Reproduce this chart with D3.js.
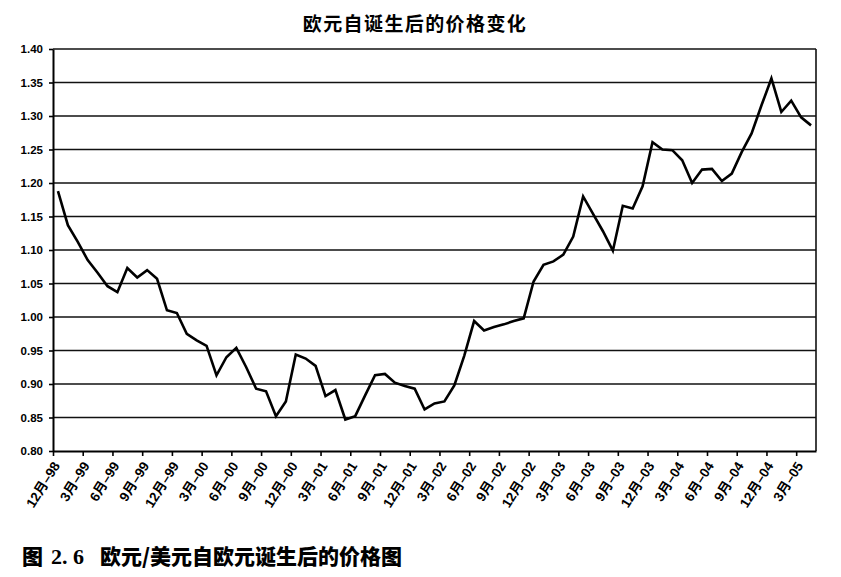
<!DOCTYPE html>
<html>
<head>
<meta charset="utf-8">
<script src="https://cdn.jsdelivr.net/npm/d3@7/dist/d3.min.js"></script>
<style>
  html, body { margin: 0; padding: 0; background: #fff; }
  svg { display: block; }
</style>
</head>
<body>
<svg id="chart" width="841" height="577"></svg>
<script>
// chart text
const TITLE = "欧元自诞生后的价格变化"
const CAPTION_FIG = "图"
const CAPTION_NO = "2. 6"
const CAPTION = "欧元/美元自欧元诞生后的价格图"

// monthly EUR/USD, Dec-98 .. Apr-05
const RATES = [
  1.188, 1.137, 1.112, 1.085, 1.066, 1.046, 1.037, 1.073, 1.059, 1.070,
  1.057, 1.010, 1.006, 0.975, 0.965, 0.957, 0.913, 0.940, 0.954, 0.925,
  0.893, 0.889, 0.852, 0.874, 0.944, 0.938, 0.927, 0.882, 0.891, 0.847,
  0.852, 0.883, 0.913, 0.915, 0.902, 0.897, 0.893, 0.862, 0.871, 0.874,
  0.898, 0.942, 0.994, 0.980, 0.985, 0.989, 0.994, 0.998, 1.053, 1.078,
  1.083, 1.093, 1.120, 1.180, 1.154, 1.128, 1.099, 1.166, 1.162, 1.195,
  1.261, 1.250, 1.249, 1.234, 1.200, 1.220, 1.221, 1.203, 1.214, 1.246,
  1.274, 1.316, 1.356, 1.306, 1.323, 1.298, 1.286
]

// one label every third month, starting at the first month
const X_LABELS = [
  "12月–98", "3月–99", "6月–99", "9月–99", "12月–99", "3月–00", "6月–00",
  "9月–00", "12月–00", "3月–01", "6月–01", "9月–01", "12月–01", "3月–02",
  "6月–02", "9月–02", "12月–02", "3月–03", "6月–03", "9月–03", "12月–03",
  "3月–04", "6月–04", "9月–04", "12月–04", "3月–05"
]
const LABEL_STEP = 3

const Y_TICKS = [0.80, 0.85, 0.90, 0.95, 1.00, 1.05, 1.10, 1.15, 1.20, 1.25, 1.30, 1.35, 1.40]

const LATIN = "'Liberation Sans', Arial, 'Noto Sans CJK SC', sans-serif"
const CJK = "'Noto Sans CJK SC', sans-serif"
const SERIF = "'Liberation Serif', 'Times New Roman', serif"

const plot = { left: 53, right: 816, top: 49, bottom: 451 }

const svg = d3.select("#chart")

const x = d3.scaleLinear()
  .domain([0, RATES.length])
  .range([plot.left, plot.right])

const y = d3.scaleLinear()
  .domain([0.80, 1.40])
  .range([plot.bottom, plot.top])

// title
svg.append("text")
  .attr("x", 415)
  .attr("y", 31)
  .attr("text-anchor", "middle")
  .attr("font-family", CJK)
  .attr("font-weight", 700)
  .attr("font-size", 19)
  .attr("letter-spacing", 1.4)
  .attr("fill", "#000")
  .text(TITLE)

// horizontal gridlines
svg.append("g").attr("class", "grid")
  .selectAll("line")
  .data(Y_TICKS.filter(d => d > 0.80))
  .join("line")
  .attr("x1", plot.left)
  .attr("x2", plot.right)
  .attr("y1", d => y(d))
  .attr("y2", d => y(d))
  .attr("stroke", "#111")
  .attr("stroke-width", 1.4)

// right edge of plot
svg.append("line")
  .attr("x1", plot.right).attr("x2", plot.right)
  .attr("y1", plot.top).attr("y2", plot.bottom)
  .attr("stroke", "#111")
  .attr("stroke-width", 1.6)

// y axis
const yAxis = svg.append("g")
  .attr("transform", `translate(${plot.left},0)`)
  .call(d3.axisLeft(y)
    .tickValues(Y_TICKS)
    .tickSize(4)
    .tickSizeOuter(0)
    .tickPadding(6)
    .tickFormat(d3.format(".2f")))

yAxis.select(".domain").attr("stroke", "#000").attr("stroke-width", 2)
yAxis.selectAll(".tick line").attr("stroke", "#000").attr("stroke-width", 1.6)
yAxis.selectAll(".tick text")
  .attr("font-family", LATIN)
  .attr("font-weight", 700)
  .attr("font-size", 11.5)
  .attr("fill", "#000")

// x axis
const tickIdx = X_LABELS.map((_, i) => i * LABEL_STEP)
const xAxis = svg.append("g")
  .attr("transform", `translate(0,${plot.bottom})`)
  .call(d3.axisBottom(x)
    .tickValues(tickIdx)
    .tickSize(5)
    .tickSizeOuter(0)
    .tickFormat((d, i) => X_LABELS[i]))

xAxis.select(".domain").attr("stroke", "#000").attr("stroke-width", 2)
xAxis.selectAll(".tick line").attr("stroke", "#000").attr("stroke-width", 1.6)
xAxis.selectAll(".tick text")
  .attr("font-family", LATIN)
  .attr("font-weight", 700)
  .attr("font-size", 13.5)
  .attr("fill", "#000")
  .attr("text-anchor", "end")
  .attr("x", 0)
  .attr("y", 0)
  .attr("dy", "0.35em")
  .attr("transform", "translate(3,12) rotate(-58)")

// the rate line
const line = d3.line()
  .x((d, i) => x(i + 0.5))
  .y(d => y(d))

svg.append("path")
  .datum(RATES)
  .attr("d", line)
  .attr("fill", "none")
  .attr("stroke", "#000")
  .attr("stroke-width", 2.6)
  .attr("stroke-linejoin", "miter")

// figure caption
const cap = svg.append("text")
  .attr("x", 22)
  .attr("y", 564)
  .attr("font-family", CJK)
  .attr("font-weight", 900)
  .attr("font-size", 21)
  .attr("fill", "#000")

cap.append("tspan").text(CAPTION_FIG)
cap.append("tspan")
  .attr("dx", 8)
  .attr("font-family", SERIF)
  .attr("font-weight", 700)
  .attr("font-size", 22)
  .text(CAPTION_NO)
cap.append("tspan").attr("x", 100).text(CAPTION)
</script>
</body>
</html>
